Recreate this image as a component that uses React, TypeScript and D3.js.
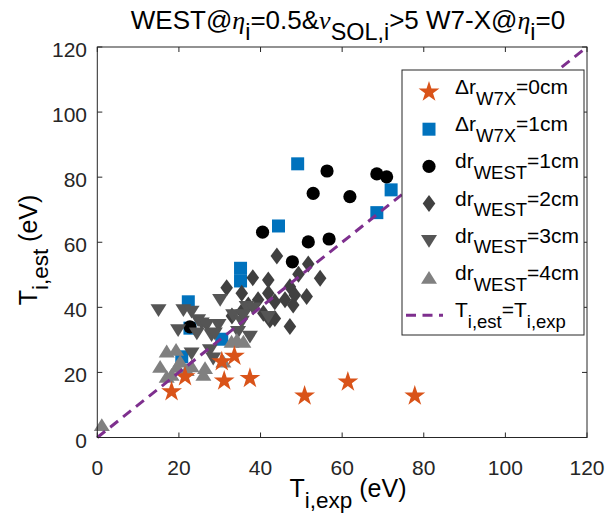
import React from 'react';
import * as d3 from 'd3';

// ---------- data ----------
const starX = [18.2, 21.5, 30.5, 33.6, 31.1, 37.4, 50.8, 61.4, 77.8];
const starY = [14.1, 18.7, 23.3, 25.0, 17.4, 18.2, 12.8, 17.1, 12.8];

const squareX = [49.1, 44.4, 35.1, 35.1, 30.5, 22.3, 22.7, 20.7, 72.0, 68.5];
const squareY = [84.1, 65.0, 52.0, 48.1, 30.2, 41.7, 33.6, 24.8, 76.1, 69.1];

const circleX = [56.3, 52.9, 61.9, 40.5, 51.7, 56.8, 47.8, 68.5, 70.9, 22.7];
const circleY = [81.9, 75.0, 74.0, 63.1, 60.1, 61.0, 54.0, 81.0, 80.1, 34.0];

const diamondX = [44.0, 51.7, 49.3, 54.6, 38.1, 41.9, 31.7, 35.4, 41.9, 47.2, 48.4, 51.3, 46.0, 48.0, 43.5, 37.0, 40.7, 43.5, 47.2, 42.3, 35.4, 39.4, 33.0];
const diamondY = [55.8, 53.3, 50.2, 48.9, 49.1, 48.4, 46.0, 44.3, 44.3, 46.3, 43.8, 43.3, 42.3, 40.7, 41.7, 40.7, 38.2, 36.6, 34.1, 36.1, 38.7, 42.3, 37.3];

const triDownX = [15.0, 21.1, 23.1, 24.7, 25.6, 19.8, 24.4, 29.7, 30.1, 33.3, 35.4, 34.5, 28.0, 23.1, 27.6, 28.4, 36.6, 38.2, 41.9, 35.8, 26.8, 28.8, 37.4];
const triDownY = [39.2, 39.2, 38.7, 36.1, 35.1, 33.0, 32.0, 34.6, 42.3, 37.6, 35.6, 32.5, 31.5, 25.9, 26.9, 24.3, 40.2, 39.7, 37.1, 37.6, 34.6, 32.0, 31.0];

const triUpX = [1.1, 17.0, 19.3, 15.4, 17.0, 19.5, 20.3, 21.9, 23.1, 26.4, 26.0, 30.9, 34.2, 35.8, 32.9, 18.2];
const triUpY = [3.8, 26.4, 26.9, 21.7, 18.6, 21.7, 23.3, 20.7, 21.8, 21.3, 19.2, 23.3, 30.0, 29.4, 29.4, 19.2];

const xTicks = [0, 20, 40, 60, 80, 100, 120];
const yTicks = [0, 20, 40, 60, 80, 100, 120];
const lineX = [0, 120];
const lineY = [0, 120];

// ---------- styling ----------
const W = 608, H = 516;
const L = 97.3, R = 587, T = 47, B = 437.5;
const FONT = '"Liberation Sans", Arial, Helvetica, sans-serif';
const SERIF = '"Liberation Serif", "DejaVu Serif", serif';
const INK = '#262626';
const C_STAR = '#D95319';
const C_SQ = '#0072BD';
const C_CIRC = '#000000';
const C_DIA = '#404040';
const C_TDN = '#555555';
const C_TUP = '#808080';
const C_LINE = '#7E2F8E';

type Seg = { t: string; sub?: boolean; it?: boolean };

function Rich(props: { segs: Seg[]; x: number; y: number; size: number; anchor?: string; subScale?: number; drop?: number; transform?: string }) {
  const { segs, x, y, size, anchor = 'start', subScale = 0.9, drop = 0.5, transform } = props;
  let cur = 0;
  const els = segs.map((s, i) => {
    const target = s.sub ? drop * size : 0;
    const dy = target - cur;
    cur = target;
    return (
      <tspan key={i} dy={dy} fontSize={s.sub ? size * subScale : size}
        fontStyle={s.it ? 'italic' : undefined} fontFamily={s.it ? SERIF : undefined}>
        {s.t}
      </tspan>
    );
  });
  return (
    <text x={x} y={y} fontSize={size} textAnchor={anchor} fill="#000" fontFamily={FONT} transform={transform}
      style={{ whiteSpace: 'pre' }}>
      {els}
    </text>
  );
}

const starPath = d3.symbol(d3.symbolStar, 135)() as string;
const squarePath = 'M-6.5,-6.5h13v13h-13z';
const diamondPath = 'M0,-8.5L6.3,0L0,8.5L-6.3,0Z';
const triDownPath = 'M-8,-5.8L8,-5.8L0,7Z';
const triUpPath = 'M-8,5.8L8,5.8L0,-7Z';

function Marker({ kind, x, y }: { kind: string; x: number; y: number }) {
  const tr = `translate(${x},${y})`;
  switch (kind) {
    case 'star': return <path d={starPath} transform={tr} fill={C_STAR} />;
    case 'square': return <path d={squarePath} transform={tr} fill={C_SQ} />;
    case 'circle': return <circle cx={x} cy={y} r={6.6} fill={C_CIRC} />;
    case 'diamond': return <path d={diamondPath} transform={tr} fill={C_DIA} />;
    case 'tdown': return <path d={triDownPath} transform={tr} fill={C_TDN} />;
    case 'tup': return <path d={triUpPath} transform={tr} fill={C_TUP} />;
  }
  return null;
}

export default function App() {
  const x = d3.scaleLinear().domain([0, 120]).range([L, R]);
  const y = d3.scaleLinear().domain([0, 120]).range([B, T]);

  const series: { kind: string; xs: number[]; ys: number[] }[] = [
    { kind: 'square', xs: squareX, ys: squareY },
    { kind: 'circle', xs: circleX, ys: circleY },
    { kind: 'diamond', xs: diamondX, ys: diamondY },
    { kind: 'tdown', xs: triDownX, ys: triDownY },
    { kind: 'tup', xs: triUpX, ys: triUpY },
    { kind: 'star', xs: starX, ys: starY },
  ];

  const line = d3.line<number>().x((_, i) => x(lineX[i])).y((_, i) => y(lineY[i]));

  const tickLen = 5;
  const legX0 = 402, legY0 = 70, legX1 = 584, legY1 = 335;
  const rowY0 = 92, rowStep = 37.2;
  const mX = 429, tX = 455;

  const legendRows: { kind: string; segs: Seg[] }[] = [
    { kind: 'star', segs: [{ t: '\u0394r' }, { t: 'W7X', sub: true }, { t: '=0cm' }] },
    { kind: 'square', segs: [{ t: '\u0394r' }, { t: 'W7X', sub: true }, { t: '=1cm' }] },
    { kind: 'circle', segs: [{ t: 'dr' }, { t: 'WEST', sub: true }, { t: '=1cm' }] },
    { kind: 'diamond', segs: [{ t: 'dr' }, { t: 'WEST', sub: true }, { t: '=2cm' }] },
    { kind: 'tdown', segs: [{ t: 'dr' }, { t: 'WEST', sub: true }, { t: '=3cm' }] },
    { kind: 'tup', segs: [{ t: 'dr' }, { t: 'WEST', sub: true }, { t: '=4cm' }] },
    { kind: 'line', segs: [{ t: 'T' }, { t: 'i,est', sub: true }, { t: '=T' }, { t: 'i,exp', sub: true }] },
  ];

  const titleSegs: Seg[] = [
    { t: 'WEST@' }, { t: '\u03B7', it: true }, { t: 'i', sub: true }, { t: '=0.5&' },
    { t: '\u03BD', it: true }, { t: 'SOL,i', sub: true }, { t: '>5 W7-X@' },
    { t: '\u03B7', it: true }, { t: 'i', sub: true }, { t: '=0' },
  ];

  return (
    <svg width={W} height={H} style={{ position: 'absolute', left: 0, top: 0, background: '#fff' }}
      fontFamily={FONT}>
      <rect x={0} y={0} width={W} height={H} fill="#fff" />

      {/* markers */}
      {series.map((s) => (
        <g key={s.kind}>
          {s.xs.map((v, i) => <Marker key={i} kind={s.kind} x={x(v)} y={y(s.ys[i])} />)}
        </g>
      ))}

      {/* identity line */}
      <path d={line(lineX) as string} fill="none" stroke={C_LINE} strokeWidth={3} strokeDasharray="10,6.5" />

      {/* frame */}
      <rect x={L} y={T} width={R - L} height={B - T} fill="none" stroke={INK} strokeWidth={1} />
      {xTicks.map((t) => (
        <g key={'xt' + t}>
          <line x1={x(t)} x2={x(t)} y1={B} y2={B - tickLen} stroke={INK} />
          <line x1={x(t)} x2={x(t)} y1={T} y2={T + tickLen} stroke={INK} />
          <text x={x(t)} y={B + 37} fontSize={21} textAnchor="middle" fill={INK}>{t}</text>
        </g>
      ))}
      {yTicks.map((t) => (
        <g key={'yt' + t}>
          <line x1={L} x2={L + tickLen} y1={y(t)} y2={y(t)} stroke={INK} />
          <line x1={R} x2={R - tickLen} y1={y(t)} y2={y(t)} stroke={INK} />
          <text x={87} y={y(t) + 10} fontSize={21} textAnchor="end" fill={INK}>{t}</text>
        </g>
      ))}

      {/* axis labels */}
      <Rich segs={[{ t: 'T' }, { t: 'i,exp', sub: true }, { t: ' (eV)' }]} x={348} y={497} size={25} anchor="middle" drop={0.42} />
      <Rich segs={[{ t: 'T' }, { t: 'i,est', sub: true }, { t: ' (eV)' }]} x={0} y={0} size={25} anchor="middle" drop={0.42}
        transform="translate(37,250) rotate(-90)" />

      {/* title */}
      <Rich segs={titleSegs} x={348} y={29} size={26} anchor="middle" drop={0.42} />

      {/* legend */}
      <rect x={legX0} y={legY0} width={legX1 - legX0} height={legY1 - legY0} fill="#fff" stroke={INK} strokeWidth={1} />
      {legendRows.map((r, i) => {
        const ry = rowY0 + i * rowStep;
        return (
          <g key={'lg' + i}>
            {r.kind === 'line'
              ? <line x1={406} x2={443} y1={ry} y2={ry} stroke={C_LINE} strokeWidth={3} strokeDasharray="10,6.5" />
              : <Marker kind={r.kind} x={mX} y={ry} />}
            <Rich segs={r.segs} x={tX} y={ry + 2} size={21} subScale={0.88} drop={0.5} />
          </g>
        );
      })}
    </svg>
  );
}
